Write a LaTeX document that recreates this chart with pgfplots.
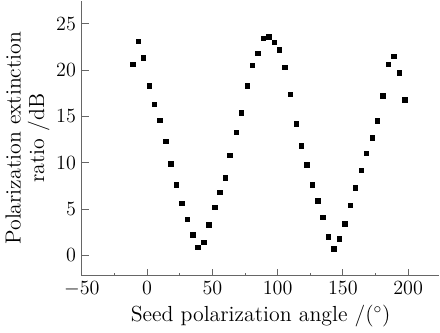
\documentclass[border=0pt]{standalone}
\usepackage{pgfplots}
\pgfplotsset{compat=1.18}
\begin{document}
\begin{tikzpicture}
\begin{axis}[
  scale only axis,
  width=213pt, height=164pt,
  xmin=-50, xmax=224,
  ymin=-2.2, ymax=27.5,
  axis x line=bottom, axis y line=left,
  axis line style={-, gray!80!black, line width=0.6pt},
  xtick={-50,0,50,100,150,200},
  ytick={0,5,10,15,20,25},
  minor x tick num=1,
  tick align=inside,
  tick style={gray!80!black, line width=0.6pt},
  major tick length=4pt, minor tick length=2pt,
  tick label style={font=\fontsize{12.5}{14}\selectfont},
  label style={font=\fontsize{13}{14}\selectfont},
  xlabel={Seed polarization angle /($^\circ$)},
  ylabel={Polarization extinction\\ratio /dB},
  ylabel style={align=center, yshift=-3pt},
  xlabel style={yshift=2pt},
]
\addplot[only marks, mark=square*, mark size=1.35pt, black] coordinates {
(-11.0,20.6) (-6.7,23.1) (-2.8,21.3) (1.8,18.3) (5.6,16.3) (9.9,14.6)
(14.2,12.3) (18.0,9.9) (22.4,7.6) (26.5,5.6) (30.8,3.9) (34.9,2.2)
(38.9,0.9) (43.3,1.4) (47.3,3.3) (51.7,5.2) (55.7,6.8) (59.9,8.4)
(63.5,10.8) (68.3,13.3) (72.3,15.4) (76.7,18.3) (80.5,20.5) (84.8,21.8)
(89.1,23.4) (93.2,23.6) (97.6,23.0) (101.4,22.2) (105.7,20.3) (109.8,17.4)
(114.4,14.2) (118.2,11.8) (122.2,9.8) (126.6,7.6) (130.7,5.9) (134.8,4.1)
(138.8,2.0) (143.2,0.7) (147.2,1.8) (151.6,3.4) (155.7,5.4) (159.7,7.3)
(164.1,9.2) (168.1,11.0) (172.5,12.7) (176.3,14.5) (180.7,17.2) (184.7,20.6)
(189.1,21.5) (193.1,19.7) (197.5,16.8)
};
\end{axis}
\end{tikzpicture}
\end{document}
